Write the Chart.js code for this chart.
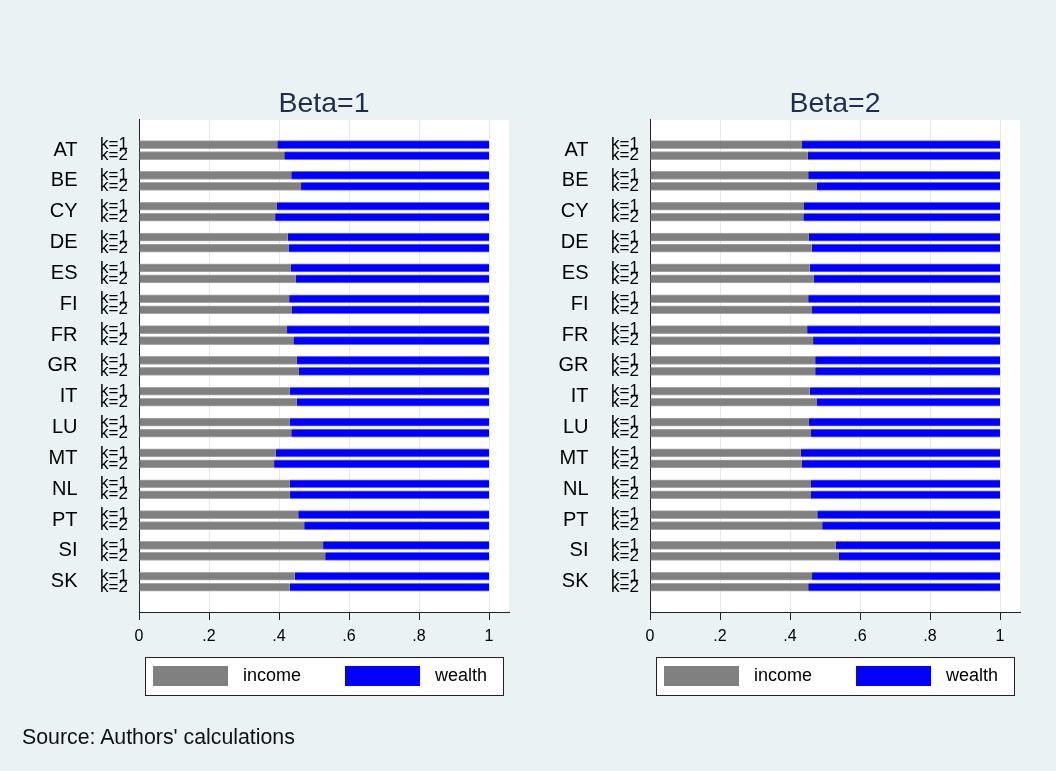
<!DOCTYPE html>
<html><head><meta charset="utf-8">
<script src="https://cdn.jsdelivr.net/npm/chart.js@4.4.1/dist/chart.umd.min.js"></script>
<style>
html,body{margin:0;padding:0;background:#eaf2f3;}
body{width:1056px;height:771px;position:relative;overflow:hidden;font-family:"Liberation Sans",Arial,sans-serif;}
.panel{position:absolute;top:0;width:511px;height:771px;}
#source{position:absolute;left:22px;top:725px;font-size:21.3px;color:#111;white-space:nowrap;}
</style></head><body>
<div class="panel" style="left:0"><canvas id="c1" width="511" height="771"></canvas></div>
<div class="panel" style="left:511px"><canvas id="c2" width="511" height="771"></canvas></div>
<div id="source">Source: Authors' calculations</div>
<script>
const countries = ['AT','BE','CY','DE','ES','FI','FR','GR','IT','LU','MT','NL','PT','SI','SK'];
const kLabels = ['k=1','k=2'];
const panelTitles = ['Beta=1','Beta=2'];
const seriesNames = ['income','wealth'];
const xTicks = [0, 0.2, 0.4, 0.6, 0.8, 1];

const incomeBeta1K1 = [0.395,0.435,0.394,0.425,0.434,0.429,0.423,0.451,0.430,0.430,0.390,0.431,0.455,0.526,0.445];
const incomeBeta1K2 = [0.415,0.463,0.389,0.427,0.447,0.437,0.441,0.457,0.451,0.435,0.386,0.431,0.472,0.532,0.430];
const wealthBeta1K1 = [0.605,0.565,0.606,0.575,0.566,0.571,0.577,0.549,0.570,0.570,0.610,0.569,0.545,0.474,0.555];
const wealthBeta1K2 = [0.585,0.537,0.611,0.573,0.553,0.563,0.559,0.543,0.549,0.565,0.614,0.569,0.528,0.468,0.570];

const incomeBeta2K1 = [0.434,0.452,0.440,0.454,0.456,0.452,0.449,0.472,0.456,0.454,0.431,0.460,0.478,0.531,0.463];
const incomeBeta2K2 = [0.451,0.477,0.438,0.462,0.467,0.463,0.466,0.472,0.477,0.460,0.434,0.460,0.492,0.540,0.452];
const wealthBeta2K1 = [0.566,0.548,0.560,0.546,0.544,0.548,0.551,0.528,0.544,0.546,0.569,0.540,0.522,0.469,0.537];
const wealthBeta2K2 = [0.549,0.523,0.562,0.538,0.533,0.537,0.534,0.528,0.523,0.540,0.566,0.540,0.508,0.460,0.548];

const FAMILY = '"Liberation Sans", Arial, sans-serif';
Chart.defaults.font.family = FAMILY;
const KGAP = 0.357;           // offset of the k=2 bar inside a country group (axis units)
const COLORS = ['#808080', '#0000ff'];
const EDGES = ['#a8a8a8', '#6a6aff'];

function points(a1, a2) {
  const out = [];
  countries.forEach((c, i) => { out.push({x: a1[i], y: i}); out.push({x: a2[i], y: i + KGAP}); });
  return out;
}
const tickPositions = [];
countries.forEach((c, i) => { tickPositions.push(i, i + KGAP); });

function fmtX(v) {
  if (Math.abs(v) < 1e-9) return '0';
  if (Math.abs(v - 1) < 1e-9) return '1';
  return v.toFixed(1).replace(/^0/, '');
}

const plotBg = {
  id: 'plotBg',
  beforeDraw(chart) {
    const {ctx, chartArea: a} = chart;
    ctx.save(); ctx.fillStyle = '#ffffff';
    ctx.fillRect(a.left, a.top, a.right - a.left, a.bottom - a.top);
    ctx.restore();
  }
};
const countryLabels = {
  id: 'countryLabels',
  afterDraw(chart) {
    const {ctx} = chart; const ys = chart.scales.y;
    ctx.save();
    ctx.font = '20px ' + FAMILY; ctx.fillStyle = '#000';
    ctx.textAlign = 'right'; ctx.textBaseline = 'middle';
    countries.forEach((c, i) => ctx.fillText(c, 77.5, ys.getPixelForValue(i + KGAP / 2)));
    ctx.restore();
  }
};
const boxLegend = {
  id: 'boxLegend',
  afterDraw(chart) {
    const {ctx, chartArea: a} = chart;
    const L = a.left + 6, R = a.right - 6, T = a.bottom + 45, H = 38;
    ctx.save();
    ctx.fillStyle = '#ffffff'; ctx.fillRect(L, T, R - L, H);
    ctx.strokeStyle = '#222'; ctx.lineWidth = 1;
    ctx.strokeRect(Math.round(L) + 0.5, Math.round(T) + 0.5, Math.round(R - L), H);
    ctx.font = '18px ' + FAMILY; ctx.textBaseline = 'middle'; ctx.textAlign = 'left';
    let x = L + 8;
    chart.data.datasets.forEach(ds => {
      ctx.fillStyle = ds.backgroundColor; ctx.fillRect(x, T + 9, 75, 20);
      ctx.fillStyle = '#000'; ctx.fillText(ds.label, x + 90, T + 19.5);
      x += 90 + ctx.measureText(ds.label).width + 44;
    });
    ctx.restore();
  }
};

function makeChart(id, title, inc1, inc2, w1, w2) {
  const mk = (k, data) => ({
    label: seriesNames[k], data,
    backgroundColor: COLORS[k], borderColor: EDGES[k],
    borderWidth: {top: 1, bottom: 1, left: 0, right: 0}, borderSkipped: false,
    barThickness: 8, grouped: false
  });
  return new Chart(document.getElementById(id), {
    type: 'bar',
    data: {datasets: [mk(0, points(inc1, inc2)), mk(1, points(w1, w2))]},
    options: {
      indexAxis: 'y', responsive: false, animation: false,
      layout: {padding: {left: 0, right: 2, top: 0, bottom: 119}},
      scales: {
        x: {
          type: 'linear', stacked: true, min: 0, max: 370 / 350, offset: false,
          afterBuildTicks: s => { s.ticks = xTicks.map(v => ({value: v})); },
          afterFit: s => { s.height = 40; },
          grid: {color: c => (c.tick && c.tick.value === 0) ? 'rgba(0,0,0,0)' : '#e2eaed',
                 tickColor: '#222', tickLength: 8, offset: false},
          border: {color: '#222', width: 1},
          ticks: {color: '#000', font: {size: 16}, padding: 7, maxRotation: 0, autoSkip: false, callback: v => fmtX(v)}
        },
        y: {
          type: 'linear', reverse: true, min: -0.80, max: 15.16, offset: false,
          afterBuildTicks: s => { s.ticks = tickPositions.map(v => ({value: v})); },
          afterFit: s => { s.width = 139; },
          grid: {display: true, drawOnChartArea: false, drawTicks: false, offset: false},
          border: {color: '#222', width: 1},
          ticks: {color: '#000', font: {size: 17}, padding: 11, autoSkip: false,
                  callback: (v, i) => kLabels[i % 2]}
        }
      },
      plugins: {
        legend: {display: false},
        tooltip: {enabled: false},
        title: {display: true, text: title, fullSize: false, color: '#1f2d4f',
                font: {size: 28.5, weight: 'normal', lineHeight: 1.1}, padding: {top: 88.6, bottom: 0}}
      }
    },
    plugins: [plotBg, countryLabels, boxLegend]
  });
}

makeChart('c1', panelTitles[0], incomeBeta1K1, incomeBeta1K2, wealthBeta1K1, wealthBeta1K2);
makeChart('c2', panelTitles[1], incomeBeta2K1, incomeBeta2K2, wealthBeta2K1, wealthBeta2K2);
</script>
</body></html>
